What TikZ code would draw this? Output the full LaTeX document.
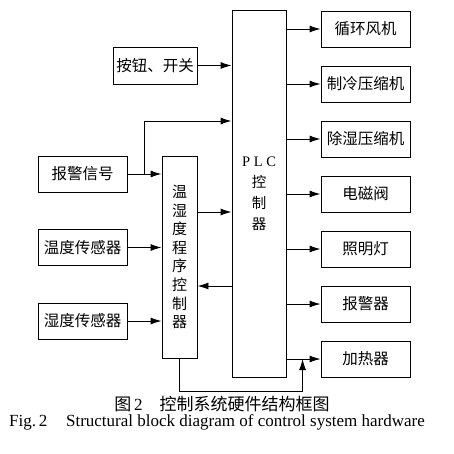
\documentclass[tikz,border=0pt]{standalone}
\usepackage{fontspec}
\setmainfont{Liberation Serif}
\newfontfamily\cjk{Noto Sans CJK SC}
\usetikzlibrary{arrows.meta}
\tikzset{
	box/.style={draw,line width=.9pt,minimum width=89pt,minimum height=36pt,inner sep=0pt,font=\cjk\fontsize{15.5}{17}\selectfont},
	arr/.style={line width=.9pt,-{Latex[length=11pt,width=7pt]}}
}
\begin{document}
\begin{tikzpicture}[x=1pt,y=-1pt]
	\useasboundingbox (0,0) rectangle (454,454);
	\def\h{55}
	\node[box,minimum width=54pt,minimum height=367pt,align=center,font=\cjk\fontsize{14.5}{21}\selectfont] (plc) at (259,193.5) {{\rmfamily P L C}\\控\\制\\器};
	\foreach \t [count=\i] in {循环风机,制冷压缩机,除湿压缩机,电磁阀,照明灯,报警器,加热器}
		\node[box] (o\i) at (365.5,{29+(\i-1)*\h}) {\t};
	\node[box,minimum width=84pt,minimum height=37pt] (btn) at (155,65.5) {按钮、开关};
	\node[box] (alm) at (82.5,174) {报警信号};
	\node[box] (ts) at (82.5,247.5) {温度传感器};
	\node[box] (hs) at (82.5,321) {湿度传感器};
	\node[box,minimum width=35pt,minimum height=202pt,align=center,font=\cjk\fontsize{15}{18.6}\selectfont] (ctrl) at (179.5,257) {温\\湿\\度\\程\\序\\控\\制\\器};
	\draw[arr] (btn) -- (btn -| plc.west);
	\draw[arr] (alm) -- (alm -| ctrl.west);
	\draw[arr] (alm.east) ++(17,0) |- (plc.west |- 0,121);
	\draw[arr] (ts) -- (ts -| ctrl.west);
	\draw[arr] (hs) -- (hs -| ctrl.west);
	\draw[arr] (ctrl.east |- 0,212) -- (plc.west |- 0,212);
	\draw[arr] (plc.west |- 0,286) -- (ctrl.east |- 0,286);
	\foreach \i in {1,...,7}
		\draw[arr] (plc.east |- o\i) -- (o\i);
	\path (o7.west) ++(-18,0) coordinate (j);
	\draw[arr] (ctrl.south) -- ++(0,33) -| (j);
	\node[inner sep=0pt,font=\cjk\fontsize{17}{18}\selectfont] (cap) at (222,404) {图\,{\rmfamily 2}\hspace{1em}控制系统硬件结构框图};
	\node[inner sep=0pt,font=\fontsize{17}{18}\selectfont] (capen) at (217,422) {Fig.\,2\hspace{1.1em}Structural block diagram of control system hardware};
\end{tikzpicture}
\end{document}
